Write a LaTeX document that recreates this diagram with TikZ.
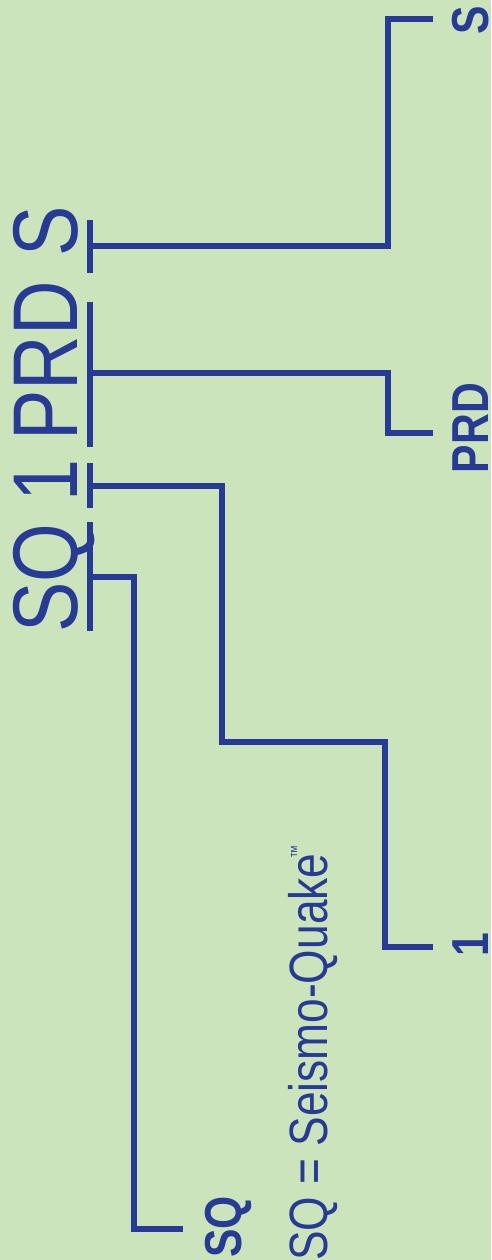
\documentclass[tikz,border=0pt]{standalone}
\usepackage{fontspec}
\setmainfont{Liberation Sans}
\newfontfamily\estrecha[FakeStretch=0.82]{Liberation Sans}

\definecolor{fondo}{RGB}{204,228,187}
\definecolor{azul}{RGB}{38,58,150}

\tikzset{
  linea/.style={draw=azul, line width=5.6pt, line join=miter},
  grande/.style={text=azul, rotate=90, anchor=base, inner sep=0pt,
    font=\estrecha\fontsize{92}{92}\selectfont},
  etiqueta/.style={text=azul, rotate=90, anchor=base, inner sep=0pt,
    font=\estrecha\bfseries\fontsize{52}{52}\selectfont},
  nota/.style={text=azul, rotate=90, anchor=base west, inner sep=0pt,
    font=\estrecha\fontsize{54}{54}\selectfont}
}

\begin{document}
\begin{tikzpicture}[x=1pt,y=-1pt]
    % Fondo verde del cuadro.
    \useasboundingbox (0,0) rectangle (491,1260);
    \fill[fondo] (0,0) rectangle (491,1260);

    % Nombre completo, leido de abajo arriba.
    \node[grande] (tSQ) at (77,578) {SQ};
    \node[grande] (tUno) at (77,481) {1};
    \node[grande] (tPRD) at (77,361) {PRD};
    \node[grande] (tS) at (77,231) {S};

    % Marca bajo cada parte del nombre y su punto medio.
    \draw[linea] (90,522) -- (90,631);
    \draw[linea] (90,463) -- (90,508);
    \draw[linea] (90,302) -- (90,447);
    \draw[linea] (90,220) -- (90,273);
    \coordinate (mSQ) at (90,577);
    \coordinate (mUno) at (90,486);
    \coordinate (mPRD) at (90,373);
    \coordinate (mS) at (90,246);

    % Extremos libres de las lineas.
    \coordinate (fSQ) at (183,1229);
    \coordinate (fUno) at (433,947);
    \coordinate (fPRD) at (433,433);
    \coordinate (fS) at (433,19);

    % Lineas hasta cada etiqueta.
    \draw[linea] (mSQ) -- ++(44,0) |- (fSQ);
    \draw[linea] (mUno) -- ++(132,0) |- (385,742) |- (fUno);
    \draw[linea] (mPRD) -- ++(298,0) |- (fPRD);
    \draw[linea] (mS) -- ++(298,0) |- (fS);

    % Etiquetas en negrita.
    \node[etiqueta] (lSQ) at (241,1227) {SQ};
    \node[etiqueta] (lUno) at (488,945) {1};
    \node[etiqueta] (lPRD) at (488,428) {PRD};
    \node[etiqueta] (lS) at (488,20) {S};

    % Nota al pie.
    \node[nota] (nSQ) at (327,1261) {SQ = Seismo-Quake\kern-5pt\raisebox{25pt}{\fontsize{16}{16}\selectfont ™}};
\end{tikzpicture}
\end{document}
